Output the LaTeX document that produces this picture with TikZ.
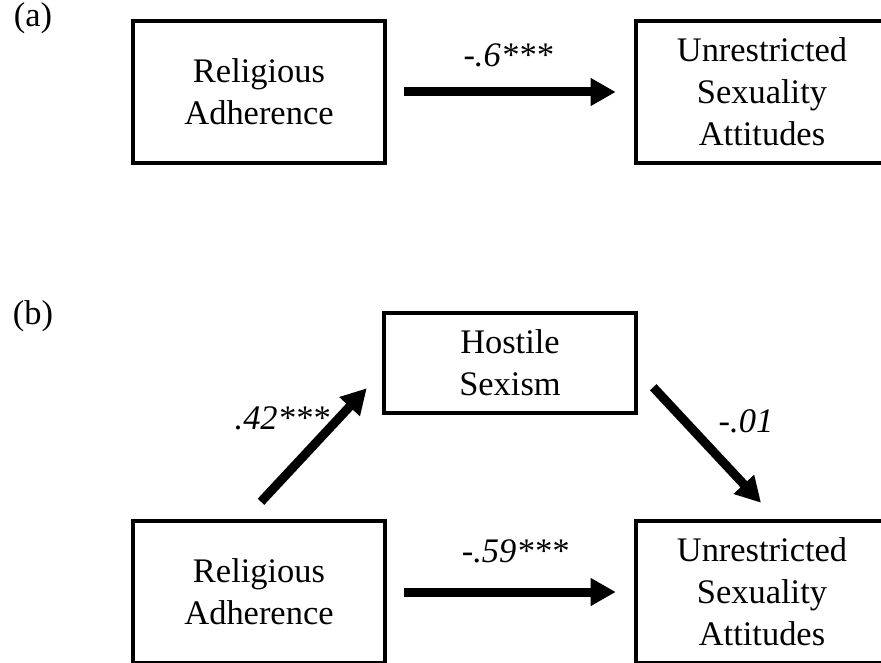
\documentclass[tikz,border=0pt]{standalone}
\usepackage{fontspec}
\setmainfont{Liberation Serif}
\usetikzlibrary{arrows.meta,calc}

\begin{document}
\begin{tikzpicture}[
    font=\fontsize{24.5}{30}\selectfont,
    box/.style={draw, line width=3.2pt, minimum width=6.3cm, minimum height=3.55cm, align=center, inner sep=0pt},
    arr/.style={line width=6.4pt, -{Triangle[length=0.63cm, width=0.66cm]}},
    coef/.style={font=\fontsize{24.5}{30}\selectfont\itshape, inner sep=0pt}
  ]
   \useasboundingbox (0,0) rectangle (22.025,-16.575);
   \clip (0,0) rectangle (22.025,-16.575);

   % panel (a)
   \node[inner sep=0pt] (pa) at (0.825,-0.45) {(a)};
   \node[box] (ra1) at (6.475,-2.3) {Religious\\Adherence};
   \node[box] (usa1) at (19.05,-2.3) {Unrestricted\\Sexuality\\Attitudes};
   \draw[arr] ($(ra1.east)+(0.425,0)$) -- ($(usa1.west)+(-0.45,0)$);
   \node[coef] (ca) at (12.7,-1.375) {-.6***};

   % panel (b)
   \node[inner sep=0pt] (pb) at (0.825,-7.9) {(b)};
   \node[box, minimum height=2.5cm] (hs) at (12.75,-9.075) {Hostile\\Sexism};
   \node[box] (ra2) at (6.475,-14.8) {Religious\\Adherence};
   \node[box] (usa2) at (19.05,-14.8) {Unrestricted\\Sexuality\\Attitudes};

   \draw[arr] ($(ra2.north)+(0.05,0.425)$) -- ($(hs.south west)+(-0.375,0.675)$);
   \draw[arr] ($(hs.south east)+(0.375,0.7)$) -- ($(usa2.north)+(-0.025,0.4)$);
   \draw[arr] ($(ra2.east)+(0.425,0)$) -- ($(usa2.west)+(-0.45,0)$);

   \node[coef] (cb1) at (7.05,-10.45) {.42***};
   \node[coef] (cb2) at (18.65,-10.525) {-.01};
   \node[coef] (cb3) at (12.875,-13.775) {-.59***};
  \end{tikzpicture}
\end{document}
